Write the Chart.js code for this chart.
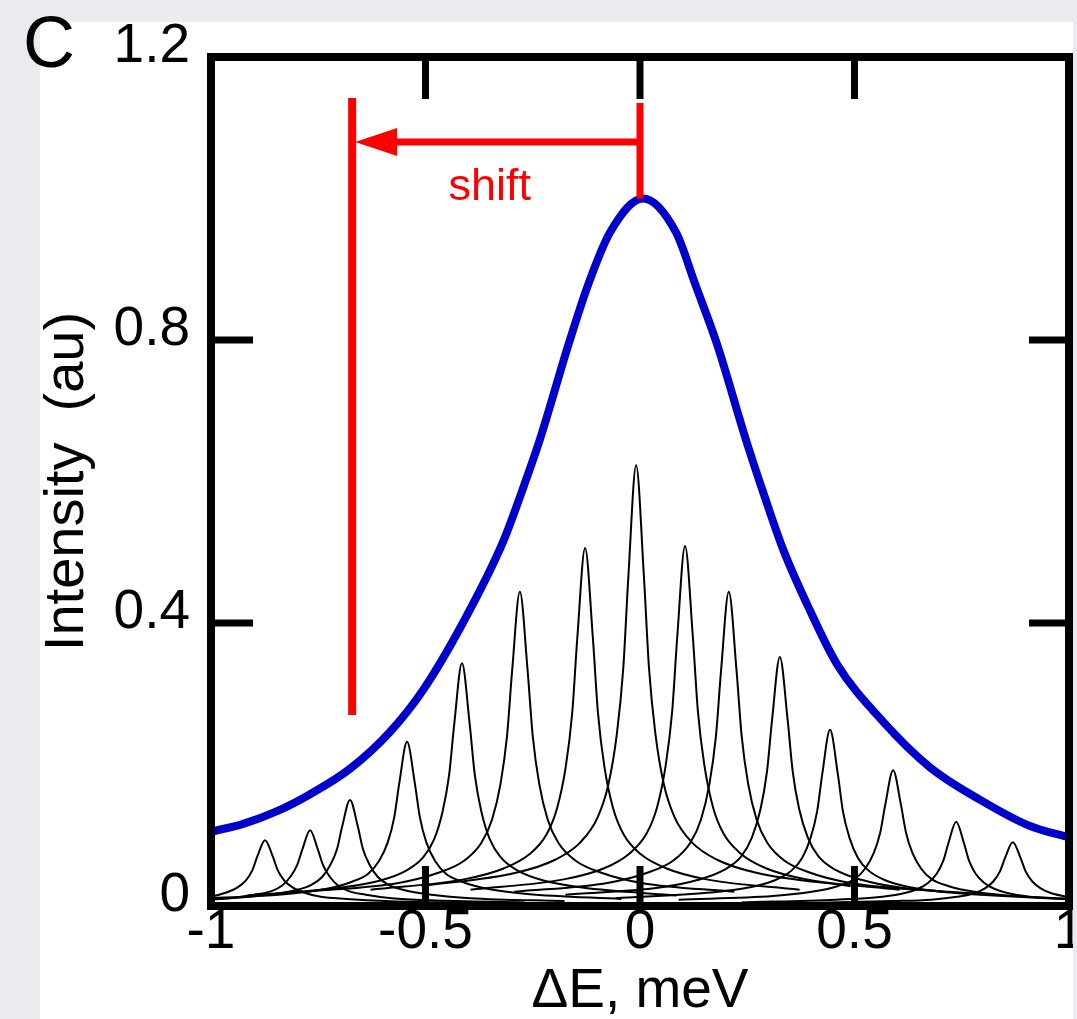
<!DOCTYPE html>
<html>
<head>
<meta charset="utf-8">
<title>Intensity vs energy shift</title>
<script src="https://cdn.jsdelivr.net/npm/chart.js@4.4.1/dist/chart.umd.min.js"></script>
<style>
  html, body { margin: 0; padding: 0; background: #e9ebef; }
  canvas { display: block; }
</style>
</head>
<body>
<canvas id="myChart" width="1077" height="1019"></canvas>
<script>
// axis ticks
var xTicks = [-1, -0.5, 0, 0.5, 1];
var yTicks = [0, 0.4, 0.8, 1.2];
// inward tick marks drawn on the frame
var xMarks = [-0.5, 0, 0.5];
var yMarks = [0.4, 0.8];

// blue envelope
var envX = [-1.0, -0.925, -0.846, -0.769, -0.676, -0.583, -0.506, -0.413, -0.319, -0.27, -0.233, -0.166, -0.121, -0.07,
            0.007, 0.084, 0.128, 0.179, 0.249, 0.287, 0.333, 0.396, 0.459, 0.566, 0.676, 0.793, 0.909, 1.0];
var envY = [0.105, 0.116, 0.134, 0.158, 0.194, 0.246, 0.305, 0.400, 0.515, 0.595, 0.660, 0.795, 0.878, 0.952,
            1.0, 0.952, 0.880, 0.795, 0.655, 0.585, 0.505, 0.418, 0.342, 0.261, 0.196, 0.150, 0.113, 0.097];

// thin black peaks, [x, y]
var peak01 = [[-1.374,0.004],[-1.154,0.007],[-1.064,0.010],[-1.004,0.013],[-0.964,0.019],[-0.939,0.026],[-0.919,0.036],[-0.904,0.050],[-0.892,0.070],[-0.874,0.093],
              [-0.856,0.070],[-0.844,0.050],[-0.829,0.036],[-0.809,0.026],[-0.784,0.019],[-0.744,0.013],[-0.684,0.010],[-0.594,0.007],[-0.374,0.004]];
var peak02 = [[-1.269,0.005],[-1.049,0.008],[-0.959,0.011],[-0.899,0.016],[-0.859,0.021],[-0.834,0.029],[-0.814,0.042],[-0.799,0.058],[-0.787,0.080],[-0.769,0.107],
              [-0.751,0.080],[-0.739,0.058],[-0.724,0.042],[-0.704,0.029],[-0.679,0.021],[-0.639,0.016],[-0.579,0.011],[-0.489,0.008],[-0.269,0.005]];
var peak03 = [[-1.176,0.007],[-0.956,0.011],[-0.866,0.016],[-0.806,0.022],[-0.766,0.030],[-0.741,0.041],[-0.721,0.059],[-0.706,0.081],[-0.694,0.113],[-0.676,0.150],
              [-0.658,0.113],[-0.646,0.081],[-0.631,0.059],[-0.611,0.041],[-0.586,0.030],[-0.546,0.022],[-0.486,0.016],[-0.396,0.011],[-0.176,0.007]];
var peak04 = [[-1.043,0.010],[-0.823,0.017],[-0.733,0.024],[-0.673,0.034],[-0.633,0.046],[-0.608,0.064],[-0.588,0.090],[-0.573,0.125],[-0.561,0.174],[-0.543,0.232],
              [-0.525,0.174],[-0.513,0.125],[-0.498,0.090],[-0.478,0.064],[-0.453,0.046],[-0.413,0.034],[-0.353,0.024],[-0.263,0.017],[-0.043,0.010]];
var peak05 = [[-0.915,0.015],[-0.695,0.026],[-0.605,0.036],[-0.545,0.050],[-0.505,0.069],[-0.480,0.094],[-0.460,0.134],[-0.445,0.185],[-0.433,0.257],[-0.415,0.343],
              [-0.397,0.257],[-0.385,0.185],[-0.370,0.134],[-0.350,0.094],[-0.325,0.069],[-0.285,0.050],[-0.225,0.036],[-0.135,0.026],[0.085,0.015]];
var peak06 = [[-0.780,0.020],[-0.560,0.033],[-0.470,0.047],[-0.410,0.064],[-0.370,0.089],[-0.345,0.122],[-0.325,0.173],[-0.310,0.240],[-0.298,0.333],[-0.280,0.444],
              [-0.262,0.333],[-0.250,0.240],[-0.235,0.173],[-0.215,0.122],[-0.190,0.089],[-0.150,0.064],[-0.090,0.047],[0.000,0.033],[0.220,0.020]];
var peak07 = [[-0.628,0.023],[-0.408,0.038],[-0.318,0.053],[-0.258,0.073],[-0.218,0.101],[-0.193,0.139],[-0.173,0.197],[-0.158,0.273],[-0.146,0.380],[-0.128,0.506],
              [-0.110,0.380],[-0.098,0.273],[-0.083,0.197],[-0.063,0.139],[-0.038,0.101],[0.002,0.073],[0.062,0.053],[0.152,0.038],[0.372,0.023]];
var peak08 = [[-0.509,0.028],[-0.289,0.047],[-0.199,0.065],[-0.139,0.090],[-0.099,0.125],[-0.074,0.171],[-0.054,0.243],[-0.039,0.336],[-0.027,0.467],[-0.009,0.623],
              [0.009,0.467],[0.021,0.336],[0.036,0.243],[0.056,0.171],[0.081,0.125],[0.121,0.090],[0.181,0.065],[0.271,0.047],[0.491,0.028]];
var peak09 = [[-0.395,0.023],[-0.175,0.038],[-0.085,0.053],[-0.025,0.074],[0.015,0.102],[0.040,0.140],[0.060,0.199],[0.075,0.275],[0.087,0.382],[0.105,0.509],
              [0.123,0.382],[0.135,0.275],[0.150,0.199],[0.170,0.140],[0.195,0.102],[0.235,0.074],[0.295,0.053],[0.385,0.038],[0.605,0.023]];
var peak10 = [[-0.293,0.020],[-0.073,0.033],[0.017,0.047],[0.077,0.064],[0.117,0.089],[0.142,0.122],[0.162,0.173],[0.177,0.240],[0.189,0.333],[0.207,0.444],
              [0.225,0.333],[0.237,0.240],[0.252,0.173],[0.272,0.122],[0.297,0.089],[0.337,0.064],[0.397,0.047],[0.487,0.033],[0.707,0.020]];
var peak11 = [[-0.174,0.016],[0.046,0.026],[0.136,0.037],[0.196,0.051],[0.236,0.070],[0.261,0.097],[0.281,0.137],[0.296,0.190],[0.308,0.264],[0.326,0.352],
              [0.344,0.264],[0.356,0.190],[0.371,0.137],[0.391,0.097],[0.416,0.070],[0.456,0.051],[0.516,0.037],[0.606,0.026],[0.826,0.016]];
var peak12 = [[-0.057,0.011],[0.163,0.019],[0.253,0.026],[0.313,0.036],[0.353,0.050],[0.378,0.068],[0.398,0.097],[0.413,0.134],[0.425,0.187],[0.443,0.249],
              [0.461,0.187],[0.473,0.134],[0.488,0.097],[0.508,0.068],[0.533,0.050],[0.573,0.036],[0.633,0.026],[0.723,0.019],[0.943,0.011]];
var peak13 = [[0.090,0.009],[0.310,0.014],[0.400,0.020],[0.460,0.028],[0.500,0.038],[0.525,0.053],[0.545,0.075],[0.560,0.104],[0.572,0.144],[0.590,0.192],
              [0.608,0.144],[0.620,0.104],[0.635,0.075],[0.655,0.053],[0.680,0.038],[0.720,0.028],[0.780,0.020],[0.870,0.014],[1.090,0.009]];
var peak14 = [[0.237,0.005],[0.457,0.009],[0.547,0.012],[0.607,0.017],[0.647,0.024],[0.672,0.033],[0.692,0.046],[0.707,0.064],[0.719,0.089],[0.737,0.119],
              [0.755,0.089],[0.767,0.064],[0.782,0.046],[0.802,0.033],[0.827,0.024],[0.867,0.017],[0.927,0.012],[1.017,0.009],[1.237,0.005]];
var peak15 = [[0.369,0.004],[0.589,0.007],[0.679,0.009],[0.739,0.013],[0.779,0.018],[0.804,0.025],[0.824,0.035],[0.839,0.049],[0.851,0.068],[0.869,0.090],
              [0.887,0.068],[0.899,0.049],[0.914,0.035],[0.934,0.025],[0.959,0.018],[0.999,0.013],[1.059,0.009],[1.149,0.007],[1.369,0.004]];

// red shift marker
var markLeftX = [-0.671, -0.671];
var markLeftY = [0.27, 1.142];
var markMidX = [0, 0];
var markMidY = [1.0, 1.135];
var arrowX = [0, -0.58];
var arrowY = [1.08, 1.08];
var arrowTip = [-0.664, 1.08];
var arrowBase = -0.566;
var shiftLabel = [-0.35, 1.015];

var FONT = '"Liberation Sans", Arial, Helvetica, sans-serif';

function pairs(xs, ys) {
  return xs.map(function (x, i) { return { x: x, y: ys[i] }; });
}
function toXY(list) {
  return list.map(function (p) { return { x: p[0], y: p[1] }; });
}

// panel, frame, ticks, arrow head and labels --- START
var framePlugin = {
  id: 'framePlugin',
  beforeDraw: function (chart) {
    var c = chart.ctx;
    c.save();
    c.fillStyle = '#e9ebef';
    c.fillRect(0, 0, chart.width, chart.height);
    c.fillStyle = '#ffffff';
    c.fillRect(40, 22, 1033, 997);
    c.restore();
  },
  afterDatasetsDraw: function (chart) {
    var c = chart.ctx, a = chart.chartArea;
    var xs = chart.scales.x, ys = chart.scales.y;
    c.save();

    // arrow head
    var tx = xs.getPixelForValue(arrowTip[0]);
    var ty = ys.getPixelForValue(arrowTip[1]);
    var bx = xs.getPixelForValue(arrowBase);
    c.fillStyle = '#ff0000';
    c.beginPath();
    c.moveTo(tx, ty);
    c.lineTo(bx, ty - 14);
    c.lineTo(bx, ty + 14);
    c.closePath();
    c.fill();

    c.font = '45px ' + FONT;
    c.textAlign = 'center';
    c.textBaseline = 'middle';
    c.fillText('shift', xs.getPixelForValue(shiftLabel[0]), ys.getPixelForValue(shiftLabel[1]));

    // frame
    c.strokeStyle = '#000';
    c.lineWidth = 8;
    c.strokeRect(a.left, a.top, a.right - a.left, a.bottom - a.top);

    // inward ticks
    c.lineWidth = 7;
    c.beginPath();
    xMarks.forEach(function (v) {
      var px = xs.getPixelForValue(v);
      c.moveTo(px, a.bottom); c.lineTo(px, a.bottom - 40);
      c.moveTo(px, a.top); c.lineTo(px, a.top + 42);
    });
    yMarks.forEach(function (v) {
      var py = ys.getPixelForValue(v);
      c.moveTo(a.left, py); c.lineTo(a.left + 42, py);
      c.moveTo(a.right, py); c.lineTo(a.right - 40, py);
    });
    c.stroke();

    // panel letter
    c.fillStyle = '#000';
    c.font = '72px ' + FONT;
    c.textAlign = 'left';
    c.textBaseline = 'alphabetic';
    c.fillText('C', 23, 67);
    c.restore();
  },
  afterDraw: function (chart) {
    var c = chart.ctx;
    c.save();
    c.fillStyle = '#e9ebef';
    c.fillRect(1073, 0, chart.width - 1073, chart.height);
    c.restore();
  }
};
// panel, frame, ticks, arrow head and labels --- END

var peaks = [peak01, peak02, peak03, peak04, peak05, peak06, peak07, peak08,
             peak09, peak10, peak11, peak12, peak13, peak14, peak15];

var datasets = [
  { data: pairs(markLeftX, markLeftY), borderColor: '#ff0000', borderWidth: 8 },
  { data: pairs(markMidX, markMidY), borderColor: '#ff0000', borderWidth: 7 },
  { data: pairs(arrowX, arrowY), borderColor: '#ff0000', borderWidth: 7 },
  { data: pairs(envX, envY), borderColor: '#0000cc', borderWidth: 8, cubicInterpolationMode: 'monotone' }
];
peaks.forEach(function (p) {
  datasets.push({ data: toXY(p), borderColor: '#000000', borderWidth: 2, cubicInterpolationMode: 'monotone' });
});
datasets.forEach(function (d) {
  d.pointRadius = 0;
  d.fill = false;
});

function plainLabel(value) {
  return String(Math.round(value * 10) / 10);
}

var ctx = document.getElementById('myChart');
var myChart = new Chart(ctx, {
  type: 'line',
  data: { datasets: datasets },
  plugins: [framePlugin],
  options: {
    responsive: false,
    animation: false,
    devicePixelRatio: 1,
    layout: { padding: { left: 40, top: 57, right: 8, bottom: 0 } },
    plugins: { legend: { display: false }, tooltip: { enabled: false } },
    scales: {
      x: {
        type: 'linear',
        min: -1,
        max: 1,
        afterBuildTicks: function (scale) {
          scale.ticks = xTicks.map(function (v) { return { value: v }; });
        },
        afterFit: function (scale) {
          scale.height = 113;
          scale.paddingLeft = 0;
          scale.paddingRight = 0;
        },
        grid: { display: false, drawTicks: false },
        border: { display: false },
        ticks: {
          color: '#000',
          padding: -6,
          maxRotation: 0,
          autoSkip: false,
          callback: plainLabel,
          font: { family: FONT, size: 55 }
        },
        title: {
          display: true,
          text: 'ΔE, meV',
          color: '#000',
          padding: 0,
          font: { family: FONT, size: 55, lineHeight: 1 }
        }
      },
      y: {
        min: 0,
        max: 1.2,
        afterBuildTicks: function (scale) {
          scale.ticks = yTicks.map(function (v) { return { value: v }; });
        },
        afterFit: function (scale) {
          scale.width = 171;
          scale.paddingTop = 0;
          scale.paddingBottom = 0;
        },
        grid: { display: false, drawTicks: false },
        border: { display: false },
        ticks: {
          color: '#000',
          padding: 21,
          labelOffset: -10,
          autoSkip: false,
          callback: plainLabel,
          font: { family: FONT, size: 55 }
        },
        title: {
          display: true,
          text: 'Intensity  (au)',
          color: '#000',
          padding: 0,
          font: { family: FONT, size: 56, lineHeight: 1 }
        }
      }
    }
  }
});
</script>
</body>
</html>
